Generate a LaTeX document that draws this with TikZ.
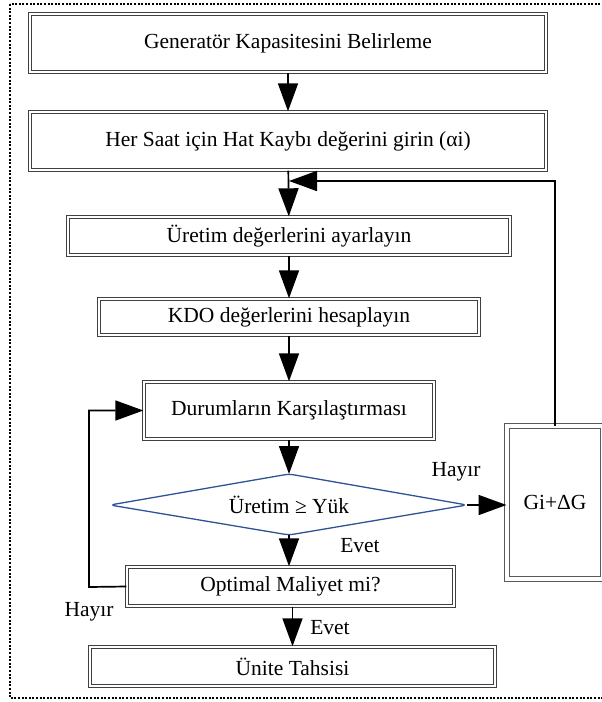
\documentclass[tikz,border=0pt]{standalone}
\usepackage{fontspec}
\setmainfont{Liberation Serif}
\usetikzlibrary{arrows.meta}
\newcommand\boxfont{\fontsize{21.5}{25}\selectfont}
\definecolor{decblue}{HTML}{2F5496}
\tikzset{
  procbox/.style={draw=black!75, line width=1.4pt, double=white,
    double distance=1.1pt, inner sep=0pt, font=\boxfont, align=center},
  sidebox/.style={draw=black!65, line width=1pt, double=white,
    double distance=4pt, inner sep=0pt, font=\boxfont, align=center},
  arr/.style={-{Triangle[length=28pt,width=20pt]}, line width=1.7pt},
  lbl/.style={font=\boxfont, inner sep=0pt},
  frame/.style={draw=black, line width=1.3pt, dash pattern=on 2pt off 1.6pt}
}
\begin{document}
\begin{tikzpicture}[x=1pt,y=-1pt]
\useasboundingbox (0,0) rectangle (602,702);
\clip (0,0) rectangle (602,702);
\fill[white] (0,0) rectangle (602,702);

% outer dotted frame
\draw[frame] (10,4) rectangle (612,698);

% process boxes
\node[procbox, minimum width=516pt, minimum height=58pt] (gen) at (288,43)
  {Generatör Kapasitesini Belirleme};
\node[procbox, minimum width=516pt, minimum height=58pt] (loss) at (288,141)
  {Her Saat için Hat Kaybı değerini girin (αi)};
\node[procbox, minimum width=442pt, minimum height=38pt] (set) at (289,236)
  {Üretim değerlerini ayarlayın};
\node[procbox, minimum width=380pt, minimum height=36pt] (kdo) at (289,317)
  {KDO değerlerini hesaplayın};
\node[procbox, minimum width=290pt, minimum height=57pt] (cmp) at (289,410.5)
  {Durumların Karşılaştırması};
\node[procbox, minimum width=327pt, minimum height=39pt] (opt) at (290.5,586.5)
  {Optimal Maliyet mi?};
\node[procbox, minimum width=405pt, minimum height=39pt] (uc) at (292.5,666.5)
  {Ünite Tahsisi};
\node[sidebox, minimum width=96pt, minimum height=153pt] (inc) at (555,502.5)
  {Gi+ΔG};

% decision
\coordinate (dl) at (110,505);
\coordinate (dt) at (289,474);
\coordinate (dr) at (467,505);
\coordinate (db) at (289,535);
\draw[decblue, line width=1.3pt, rounded corners=5pt]
  (dl) -- (dt) -- (dr) -- (db) -- cycle;
\node[lbl] (dtext) at (289,505) {Üretim ≥ Yük};

% helper points
\coordinate (join) at (289,181);
\coordinate (lp) at (89,587);

% connectors
\draw[arr] (gen) -- (loss);
\draw[arr] (loss) -- (set);
\draw[arr] (set) -- (kdo);
\draw[arr] (kdo) -- (cmp);
\draw[arr] (cmp) -- (dt);
\draw[arr] (db) -- (opt.north -| db);
\draw[arr] (opt.south -| uc.north) -- (uc.north);
\draw[arr] (dr) -- (inc.west |- dr);
\draw[arr] (inc.north) |- (join);
\draw[arr] (opt.west) -- (lp) |- (cmp.west);

% branch labels
\node[lbl] (no1) at (456,472) {Hayır};
\node[lbl] (yes1) at (360,546) {Evet};
\node[lbl] (no2) at (89,612) {Hayır};
\node[lbl] (yes2) at (330,628) {Evet};
\end{tikzpicture}
\end{document}
